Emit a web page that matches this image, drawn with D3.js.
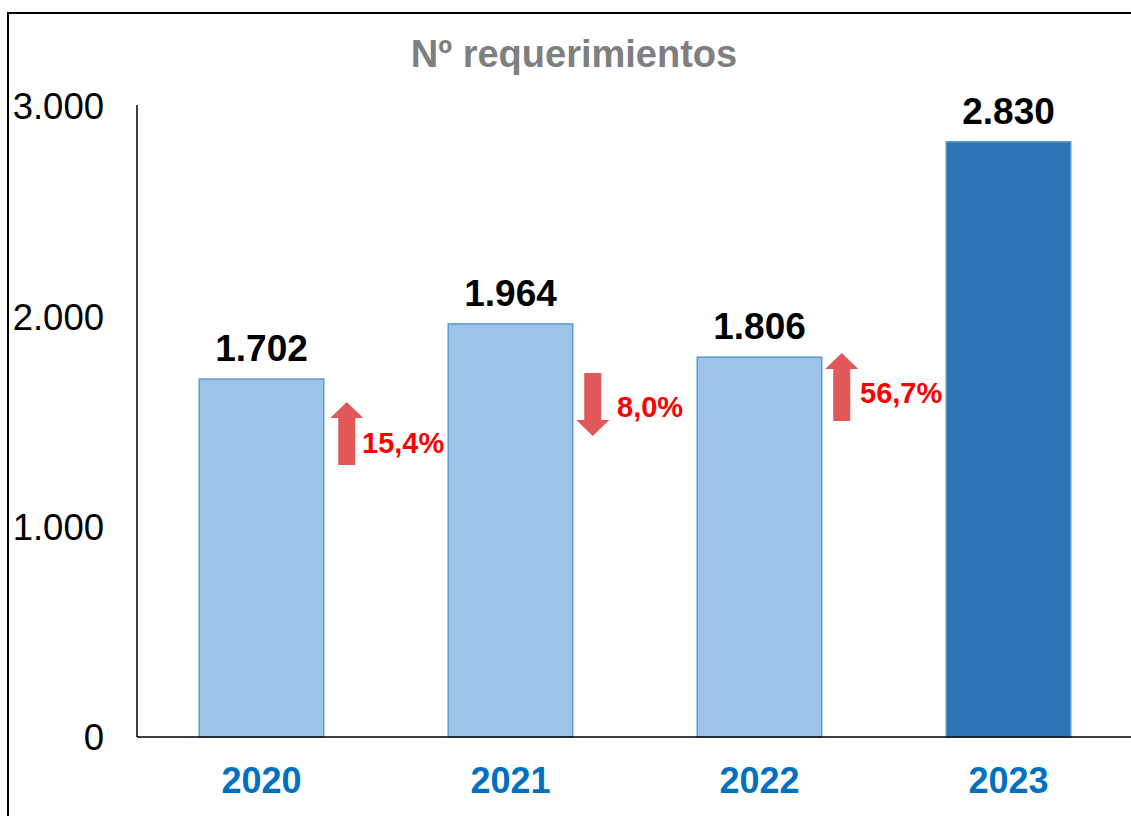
<!DOCTYPE html>
<html><head><meta charset="utf-8">
<script src="https://cdn.jsdelivr.net/npm/d3@7"></script>
<style>body{margin:0;background:#fff}svg{display:block;font-family:"Liberation Sans",Arial,sans-serif}</style>
</head><body><svg id="c" width="1131" height="816"></svg>
<script>
const categories = ["2020","2021","2022","2023"];
const values = [1702,1964,1806,2830];
const valueLabels = ["1.702","1.964","1.806","2.830"];
const yTicks = [0,1000,2000,3000];
const yTickLabels = ["0","1.000","2.000","3.000"];
const changeLabels = ["15,4%","8,0%","56,7%"];
const changeDirs = ["up","down","up"];
const title = "Nº requerimientos";

const svg = d3.select("#c");
const x = d3.scaleBand().domain(categories).range([137,1133]).paddingInner(0.5).paddingOuter(0.25);
const y = d3.scaleLinear().domain([0,3000]).range([737,106]);

// outer frame
svg.append("rect").attr("x",8).attr("y",13).attr("width",1200).attr("height",900)
  .attr("fill","none").attr("stroke","#000").attr("stroke-width",2);

svg.append("text").attr("x",574).attr("y",67).attr("text-anchor","middle")
  .attr("font-size",38).attr("font-weight","bold").attr("fill","#7f7f7f").text(title);

// bars
svg.selectAll("rect.bar").data(values).enter().append("rect").attr("class","bar")
  .attr("x",(d,i)=>x(categories[i])).attr("width",x.bandwidth())
  .attr("y",d=>y(d)).attr("height",d=>y(0)-y(d))
  .attr("fill",(d,i)=>i===3?"#2E75B6":"#9DC3E6")
  .attr("stroke","#5B9BD5").attr("stroke-width",1.5);

// value labels
svg.selectAll("text.val").data(values).enter().append("text")
  .attr("x",(d,i)=>x(categories[i])+x.bandwidth()/2).attr("y",d=>y(d)-18)
  .attr("text-anchor","middle")
  .attr("font-size",37).attr("font-weight","bold").attr("fill","#000")
  .text((d,i)=>valueLabels[i]);

// axes
const yAxis = d3.axisLeft(y).tickValues(yTicks).tickSize(0).tickPadding(33)
  .tickFormat((d,i)=>yTickLabels[i]);
const gy = svg.append("g").attr("transform","translate(137,0)").call(yAxis);
gy.select(".domain").attr("stroke","#000").attr("stroke-width",1.5).attr("d","M0,105V737");
gy.selectAll("text").attr("font-size",36.5).attr("fill","#000").attr("font-family","Liberation Sans, Arial").attr("dy","0.35em");

const xAxis = d3.axisBottom(x).tickSize(0).tickPadding(0);
const gx = svg.append("g").attr("transform","translate(0,737)").call(xAxis);
gx.select(".domain").attr("stroke","#000").attr("stroke-width",1.5).attr("d","M137,0H1131");
gx.selectAll(".tick text").attr("font-size",36).attr("font-weight","bold").attr("fill","#0070C0")
  .attr("font-family","Liberation Sans, Arial").attr("y",56).attr("dy",0);

// change arrows (layout offsets in px, relative to bars)
const arrowLayout = [
  {dx:23, top:402, bottom:465, tx:362, ty:453},
  {dx:20, top:373, bottom:436, tx:617, ty:417},
  {dx:20, top:353, bottom:421, tx:860, ty:403}
];
changeDirs.forEach((dir,i)=>{
  const L = arrowLayout[i];
  const cx = x(categories[i]) + x.bandwidth() + L.dx;
  const sw = 8.5, hw = 16.5, hh = 16;
  let p;
  if(dir==="up"){
    p = `M${cx},${L.top} L${cx+hw},${L.top+hh} L${cx+sw},${L.top+hh} L${cx+sw},${L.bottom} L${cx-sw},${L.bottom} L${cx-sw},${L.top+hh} L${cx-hw},${L.top+hh} Z`;
  } else {
    p = `M${cx},${L.bottom} L${cx+hw},${L.bottom-hh} L${cx+sw},${L.bottom-hh} L${cx+sw},${L.top} L${cx-sw},${L.top} L${cx-sw},${L.bottom-hh} L${cx-hw},${L.bottom-hh} Z`;
  }
  svg.append("path").attr("d",p).attr("fill","#E05858");
  svg.append("text").attr("x",L.tx).attr("y",L.ty).attr("font-size",29).attr("font-weight","bold")
    .attr("fill","#FF0000").text(changeLabels[i]);
});
</script></body></html>
